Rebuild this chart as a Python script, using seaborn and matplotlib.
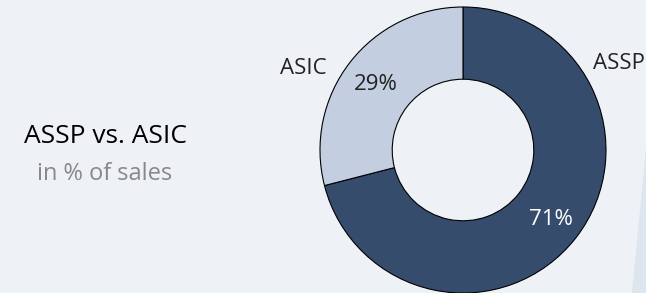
import matplotlib.pyplot as plt
import seaborn as sns
from matplotlib.patches import Polygon

# data
segments = ['ASSP', 'ASIC']
share = [71, 29]
seg_colors = ['#364c6d', '#c3cee0']

title = 'ASSP vs. ASIC'
subtitle = 'in % of sales'

bg = '#eef2f7'
sns.set_theme(style='white', rc={'figure.facecolor': bg, 'axes.facecolor': bg})
plt.rcParams['font.family'] = ['Open Sans', 'DejaVu Sans']

fig = plt.figure(figsize=(6.46, 2.93), dpi=100)
ax = fig.add_axes([0, 0, 1, 1])
ax.set_xlim(0, 646)
ax.set_ylim(0, 293)
ax.set_aspect('equal')
ax.axis('off')

# faint decoration at the right edge
ax.add_patch(Polygon([(646, 145), (632, 0), (646, 0)], closed=True,
                     facecolor='#dde5ef', edgecolor='none', zorder=0))

cx, cy, r = 463, 143, 143
wedges, texts, autotexts = ax.pie(
    share, colors=seg_colors, startangle=90, counterclock=False,
    center=(cx, cy), radius=r, frame=True,
    wedgeprops=dict(width=r * 0.505, edgecolor='black', linewidth=0.8),
    autopct='%d%%', pctdistance=0.775,
    textprops=dict(fontsize=16))
ax.set_xlim(0, 646)
ax.set_ylim(0, 293)
ax.axis('off')
autotexts[0].set_color('white')
autotexts[1].set_color('#222222')
for t in autotexts:
    x, y = t.get_position()
    t.set_position((x, y - 2))

# category labels, symmetric outside the ring
label_pos = {'ASIC': (303, 219), 'ASSP': (619, 224)}
for name in segments:
    x, y = label_pos[name]
    ax.text(x, y, name, ha='center', va='baseline', fontsize=16, color='#222222')

ax.text(105, 150, title, ha='center', va='baseline', fontsize=19, color='black')
ax.text(105, 113, subtitle, ha='center', va='baseline', fontsize=17, color='#888888')

fig.savefig('out.png', dpi=100, facecolor=bg)
